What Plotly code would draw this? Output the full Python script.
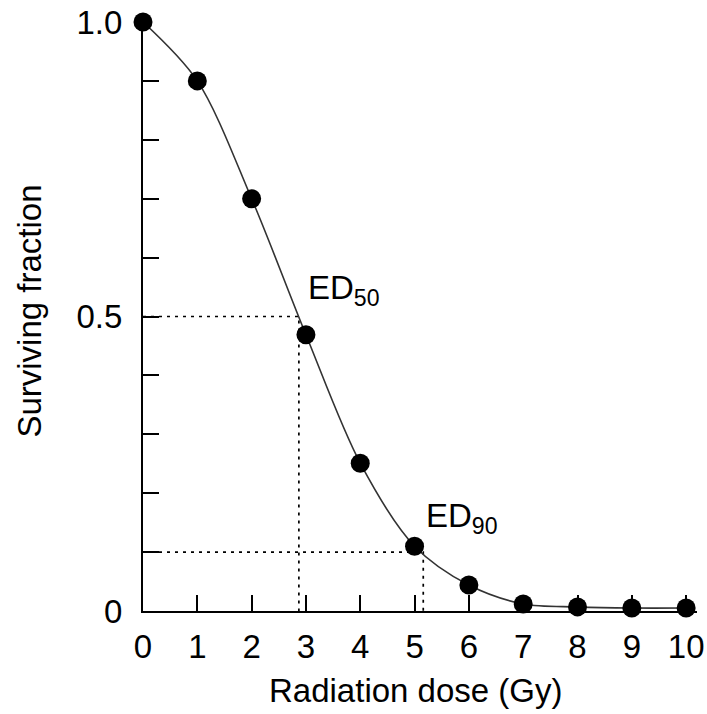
import plotly.graph_objects as go

# Data
dose = [0, 1, 2, 3, 4, 5, 6, 7, 8, 9, 10]
surviving = [1.0, 0.90, 0.70, 0.469, 0.251, 0.110, 0.044, 0.012, 0.007, 0.005, 0.005]

ed_levels = [0.5, 0.1]
ed_doses = [2.87, 5.16]
ed_labels = ["ED<sub>50</sub>", "ED<sub>90</sub>"]
ed_label_pos = [(3.0, 0.545), (5.17, 0.158)]

x_ticks = list(range(0, 11))
y_ticks = [round(i * 0.1, 1) for i in range(11)]
y_ticktext = ["0", "", "", "", "", "0.5", "", "", "", "", "1.0"]

x_title = "Radiation dose (Gy)"
y_title = "Surviving fraction"

FONT = "Liberation Sans, Arial, sans-serif"
FS = 33

fig = go.Figure()

# dotted guide lines
for lvl, d in zip(ed_levels, ed_doses):
    fig.add_trace(go.Scatter(
        x=[0, d, d], y=[lvl, lvl, 0], mode="lines",
        line=dict(color="black", width=1.7, dash="3px,5px"),
        hoverinfo="skip", showlegend=False, cliponaxis=False))

# smooth curve
fig.add_trace(go.Scatter(
    x=dose, y=surviving, mode="lines",
    line=dict(color="#333333", width=1.6, shape="spline", smoothing=0.9),
    showlegend=False, cliponaxis=False))

# markers
fig.add_trace(go.Scatter(
    x=dose, y=surviving, mode="markers",
    marker=dict(color="black", size=19),
    showlegend=False, cliponaxis=False))

for txt, (ax, ay) in zip(ed_labels, ed_label_pos):
    fig.add_annotation(x=ax, y=ay, text=txt, showarrow=False,
                       xanchor="left", yanchor="middle",
                       font=dict(family=FONT, size=FS, color="black"))

fig.add_annotation(x=0.492, y=-0.135, xref="paper", yref="paper", text=x_title,
                   showarrow=False, xanchor="center", yanchor="middle",
                   font=dict(family=FONT, size=FS, color="black"))
fig.add_annotation(x=-0.204, y=0.51, xref="paper", yref="paper", text=y_title,
                   showarrow=False, textangle=-90, xanchor="center", yanchor="middle",
                   font=dict(family=FONT, size=FS, color="black"))

fig.update_layout(
    width=707, height=714,
    margin=dict(l=143, r=10, t=22, b=103),
    plot_bgcolor="white", paper_bgcolor="white",
    font=dict(family=FONT, size=FS, color="black"),
)

fig.update_xaxes(
    range=[0, 10.2], tickvals=x_ticks, ticktext=[str(v) for v in x_ticks],
    ticks="inside", ticklen=16, tickwidth=1.6, tickcolor="black",
    showline=True, linewidth=2, linecolor="black", automargin=False,
    showgrid=False, zeroline=False, ticklabelstandoff=5,
    tickfont=dict(family=FONT, size=FS, color="black"))

fig.update_yaxes(
    range=[0, 1], tickvals=y_ticks, ticktext=y_ticktext,
    ticks="inside", ticklen=16, tickwidth=1.6, tickcolor="black",
    showline=True, linewidth=2, linecolor="black", automargin=False,
    showgrid=False, zeroline=False, ticklabelstandoff=12,
    tickfont=dict(family=FONT, size=FS, color="black"))

fig.write_html("out.html")
